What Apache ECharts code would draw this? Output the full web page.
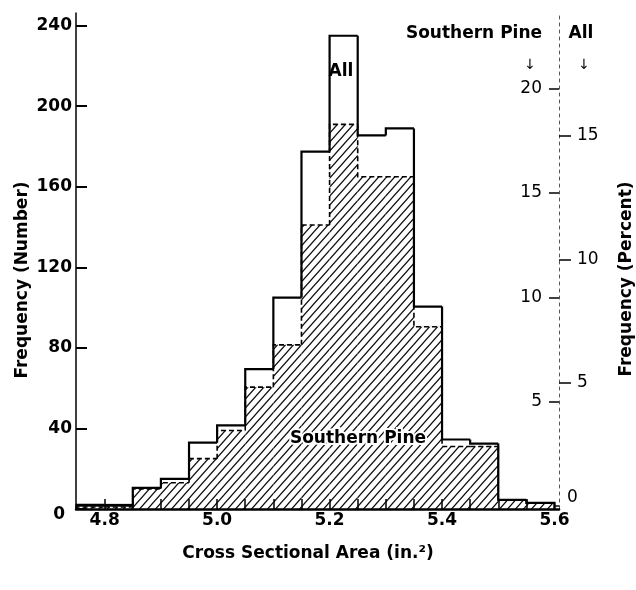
<!DOCTYPE html>
<html>
<head>
<meta charset="utf-8">
<script src="https://cdn.jsdelivr.net/npm/echarts@6/dist/echarts.min.js"></script>
<style>
html,body{margin:0;padding:0;background:#fff;}
#chart{width:636px;height:590px;}
</style>
</head>
<body>
<div id="chart"></div>
<script>
// ---- data ----
const binStarts = [4.75,4.80,4.85,4.90,4.95,5.00,5.05,5.10,5.15,5.20,5.25,5.30,5.35,5.40,5.45,5.50,5.55];
const binWidth = 0.05;
const allCounts = [2,2,10.5,15,33,41.5,69.5,105,177.5,235,185.5,189,100.5,34.5,32.5,4.5,3];
const pineCounts = [1,1,10,13,25,39,60.5,81.5,141,191,165,165,90.5,31,31,4.5,3];
const countTicks = [0,40,80,120,160,200,240];
const xTickLabels = [4.8,5.0,5.2,5.4,5.6];
const xTickMarks = [4.8,4.85,4.9,4.95,5.0,5.05,5.1,5.15,5.2,5.25,5.3,5.35,5.4,5.45,5.5,5.55];
const pinePctTicks = [5,10,15,20];
const allPctTicks = [5,10,15];

function binData(vals){
  return binStarts.map((s,i)=>[s, s+binWidth, vals[i], i===0?0:vals[i-1], i===vals.length-1?1:0]);
}

// hatch pattern tile
const tile = document.createElement('canvas');
tile.width = 8; tile.height = 9;
(function(){
  const c = tile.getContext('2d');
  c.fillStyle = '#fff'; c.fillRect(0,0,8,9);
  c.strokeStyle = '#111'; c.lineWidth = 1.25;
  c.beginPath();
  c.moveTo(0,9); c.lineTo(8,0);
  c.moveTo(-1,1.125); c.lineTo(1,-1.125);
  c.moveTo(7,10.125); c.lineTo(9,7.875);
  c.stroke();
})();

const FONT = '"DejaVu Sans", "Liberation Sans", sans-serif';

function fillItem(params, api){
  const p0 = api.coord([api.value(0), 0]);
  const p1 = api.coord([api.value(1), api.value(2)]);
  return {type:'rect', shape:{x:p0[0], y:p1[1], width:p1[0]-p0[0], height:p0[1]-p1[1]},
          style:{fill:{image: tile, repeat:'repeat'}, stroke:null}};
}
function stepItem(dash, width){
  return function(params, api){
    const x0 = api.value(0), x1 = api.value(1), v = api.value(2), pv = api.value(3), last = api.value(4);
    const pts = [api.coord([x0,pv]), api.coord([x0,v]), api.coord([x1,v])];
    if (last) pts.push(api.coord([x1,0]));
    return {type:'polyline', shape:{points:pts},
            style:{stroke:'#000', lineWidth:width, fill:null, lineDash:dash, lineCap:'butt'}};
  };
}

const chart = echarts.init(document.getElementById('chart'), null, {renderer:'canvas'});
const option = {
  backgroundColor:'#fff',
  animation:false,
  grid:{left:76, right:77, top:13, bottom:81, containLabel:false, outerBoundsMode:'none'},
  xAxis:[{
    type:'value', position:'bottom', min:4.749, max:5.608, z:10,
    splitLine:{show:false},
    axisLine:{show:true, lineStyle:{color:'#000', width:2.5}},
    axisTick:{show:true, inside:true, length:10, customValues:xTickMarks, lineStyle:{color:'#000', width:1.5}},
    axisLabel:{show:true, margin:3, customValues:xTickLabels, formatter:v=>Number(v).toFixed(1),
      color:'#000', fontFamily:FONT, fontWeight:'bold', fontSize:17}
  },{
    type:'value', position:'top', min:4.749, max:5.608,
    splitLine:{show:false}, axisTick:{show:false}, axisLabel:{show:false},
    axisLine:{show:true, lineStyle:{color:'#111', width:1.5}}
  }],
  yAxis:[{
    type:'value', position:'left', min:0, max:246.3, z:10,
    splitLine:{show:false},
    axisLine:{show:true, lineStyle:{color:'#000', width:1.5}},
    axisTick:{show:true, inside:true, length:11, customValues:countTicks, lineStyle:{color:'#000', width:2}},
    axisLabel:{show:true, margin:4, customValues:countTicks, color:'#000', fontFamily:FONT, fontWeight:'bold', fontSize:17,
      formatter:v=> v===0 ? '{z|0}' : String(v),
      rich:{z:{padding:[12,7,0,0], fontFamily:FONT, fontWeight:'bold', fontSize:17, color:'#000'}}}
  },{
    type:'value', position:'right', offset:0, min:-0.134, max:23.61,
    splitLine:{show:false},
    axisLine:{show:true, lineStyle:{color:'#555', width:1, type:[3,4]}},
    axisTick:{show:true, inside:true, length:10, customValues:pinePctTicks, lineStyle:{color:'#000', width:1.5}},
    axisLabel:{show:true, inside:true, margin:17, customValues:pinePctTicks, color:'#000', fontFamily:FONT, fontSize:17}
  },{
    type:'value', position:'right', offset:0, min:-0.101, max:19.98,
    splitLine:{show:false}, axisLine:{show:false},
    axisTick:{show:true, inside:false, length:12, customValues:allPctTicks, lineStyle:{color:'#000', width:1.5}},
    axisLabel:{show:true, margin:18, customValues:allPctTicks, color:'#000', fontFamily:FONT, fontSize:17}
  },{
    type:'value', position:'right', offset:0, min:-0.101, max:19.98,
    splitLine:{show:false}, axisLine:{show:false}, axisTick:{show:false},
    axisLabel:{show:true, margin:8, customValues:[0], verticalAlign:'bottom', color:'#000', fontFamily:FONT, fontSize:17}
  }],
  series:[{
    name:'Southern Pine fill', type:'custom', xAxisIndex:0, yAxisIndex:0, z:1,
    renderItem:fillItem, encode:{x:[0,1], y:2}, data:binData(pineCounts)
  },{
    name:'Southern Pine', type:'custom', xAxisIndex:0, yAxisIndex:0, z:3,
    renderItem:stepItem([5,3],1.6), encode:{x:[0,1], y:2}, data:binData(pineCounts)
  },{
    name:'All', type:'custom', xAxisIndex:0, yAxisIndex:0, z:4,
    renderItem:stepItem(null,2.2), encode:{x:[0,1], y:2}, data:binData(allCounts)
  }],
  graphic:[
    {type:'text', z:100, x:23, y:280, rotation:Math.PI/2,
     style:{text:'Frequency (Number)', font:'bold 17px '+FONT, fill:'#000', align:'center', verticalAlign:'middle'}},
    {type:'text', z:100, x:627, y:279, rotation:Math.PI/2,
     style:{text:'Frequency (Percent)', font:'bold 17px '+FONT, fill:'#000', align:'center', verticalAlign:'middle'}},
    {type:'text', z:100, x:308, y:554,
     style:{text:'Cross Sectional Area (in.²)', font:'bold 17px '+FONT, fill:'#000', align:'center', verticalAlign:'middle'}},
    {type:'text', z:100, x:474, y:34,
     style:{text:'Southern Pine', font:'bold 17px '+FONT, fill:'#000', align:'center', verticalAlign:'middle'}},
    {type:'text', z:100, x:581, y:34,
     style:{text:'All', font:'bold 17px '+FONT, fill:'#000', align:'center', verticalAlign:'middle'}},
    {type:'text', z:100, x:530, y:65,
     style:{text:'↓', font:'14px '+FONT, fill:'#000', align:'center', verticalAlign:'middle'}},
    {type:'text', z:100, x:584, y:65,
     style:{text:'↓', font:'14px '+FONT, fill:'#000', align:'center', verticalAlign:'middle'}},
    {type:'text', z:100, x:341, y:72,
     style:{text:'All', font:'bold 17px '+FONT, fill:'#000', align:'center', verticalAlign:'middle'}},
    {type:'text', z:100, x:358, y:439,
     style:{text:'Southern Pine', font:'bold 17px '+FONT, fill:'#000', align:'center', verticalAlign:'middle',
            stroke:'#fff', lineWidth:4}}
  ]
};
chart.setOption(option);
</script>
</body>
</html>
